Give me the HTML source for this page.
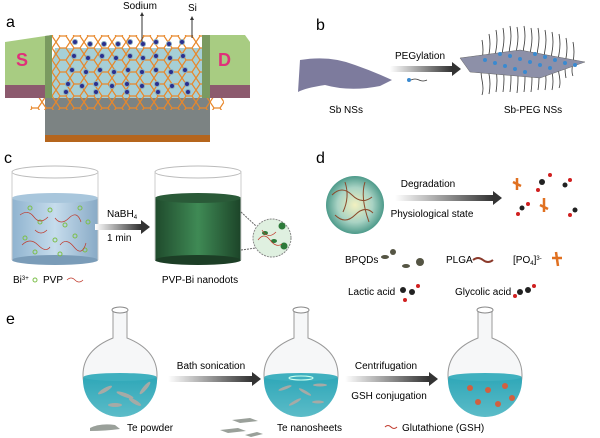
<!DOCTYPE html>
<html><head><meta charset="utf-8"><style>
html,body{margin:0;padding:0;background:#fff;}
svg{display:block;font-family:"Liberation Sans",sans-serif;}
</style></head><body>
<svg width="600" height="438" viewBox="0 0 600 438" xmlns="http://www.w3.org/2000/svg">
<defs>
<linearGradient id="arr" x1="0" x2="1"><stop offset="0" stop-color="#fff"/><stop offset="1" stop-color="#333"/></linearGradient>
<linearGradient id="liq1" x1="0" x2="1"><stop offset="0" stop-color="#8fb3cf"/><stop offset="0.5" stop-color="#c6dcec"/><stop offset="1" stop-color="#88aac6"/></linearGradient>
<linearGradient id="liq2" x1="0" x2="1"><stop offset="0" stop-color="#1f4a2c"/><stop offset="0.5" stop-color="#3f8a55"/><stop offset="1" stop-color="#1c4428"/></linearGradient>
<radialGradient id="sph"><stop offset="0" stop-color="#f2f0c0"/><stop offset="0.6" stop-color="#a9d3c4"/><stop offset="1" stop-color="#4d9a8a"/></radialGradient>
<linearGradient id="wat" x1="0" y1="0" x2="0" y2="1"><stop offset="0" stop-color="#2fa7b8"/><stop offset="1" stop-color="#5cbcc8"/></linearGradient>
<pattern id="hex" width="14" height="12" patternUnits="userSpaceOnUse"><path d="M0 6 L4 0 L10 0 L14 6 L10 12 L4 12 Z" fill="none" stroke="#e8872a" stroke-width="1.2"/></pattern>
</defs>

<!-- Panel a -->
<text x="6" y="27" font-size="16">a</text>
<polygon points="55,48 205,48 210,98 45,98" fill="#a6cfd6"/>
<rect x="45" y="98" width="165" height="37" fill="#7c8383"/>
<rect x="45" y="135" width="165" height="7" fill="#b5651d"/>
<polygon points="50,35 215,35 225,110 30,110" fill="url(#hex)"/>
<g fill="#2a2f8f" stroke="#8ab" stroke-width="1">
<circle cx="75" cy="42" r="2.5"/><circle cx="90" cy="44" r="2.5"/><circle cx="104" cy="44" r="2.5"/><circle cx="118" cy="44" r="2.5"/><circle cx="130" cy="42" r="2.5"/><circle cx="143" cy="44" r="2.5"/><circle cx="156" cy="42" r="2.5"/><circle cx="169" cy="44" r="2.5"/><circle cx="182" cy="42" r="2.5"/>
<circle cx="74" cy="56" r="2.5"/><circle cx="88" cy="58" r="2.5"/><circle cx="102" cy="56" r="2.5"/><circle cx="116" cy="58" r="2.5"/><circle cx="130" cy="56" r="2.5"/><circle cx="143" cy="58" r="2.5"/><circle cx="156" cy="56" r="2.5"/><circle cx="170" cy="58" r="2.5"/><circle cx="183" cy="56" r="2.5"/>
<circle cx="72" cy="70" r="2.5"/><circle cx="86" cy="72" r="2.5"/><circle cx="100" cy="70" r="2.5"/><circle cx="114" cy="72" r="2.5"/><circle cx="128" cy="70" r="2.5"/><circle cx="142" cy="72" r="2.5"/><circle cx="156" cy="70" r="2.5"/><circle cx="171" cy="72" r="2.5"/><circle cx="185" cy="70" r="2.5"/>
<circle cx="68" cy="84" r="2.5"/><circle cx="82" cy="86" r="2.5"/><circle cx="96" cy="84" r="2.5"/><circle cx="112" cy="86" r="2.5"/><circle cx="127" cy="84" r="2.5"/><circle cx="142" cy="86" r="2.5"/><circle cx="157" cy="84" r="2.5"/><circle cx="172" cy="86" r="2.5"/><circle cx="187" cy="84" r="2.5"/>
<circle cx="66" cy="92" r="2.5"/><circle cx="96" cy="92" r="2.5"/><circle cx="127" cy="92" r="2.5"/><circle cx="158" cy="92" r="2.5"/><circle cx="188" cy="92" r="2.5"/>
</g>
<polygon points="5,42 45,36 52,35 52,85 5,85" fill="#a8cc82"/>
<polygon points="5,85 52,85 52,98 5,98" fill="#8c5a6e"/>
<polygon points="45,36 52,35 52,98 45,98" fill="#7a9a60"/>
<text x="16" y="66" font-size="18" font-weight="bold" fill="#e0307a">S</text>
<polygon points="202,35 245,35 250,42 250,85 210,85" fill="#a8cc82"/>
<polygon points="210,85 250,85 250,98 210,98" fill="#8c5a6e"/>
<polygon points="202,35 210,35 210,98 202,98" fill="#7a9a60"/>
<text x="218" y="66" font-size="18" font-weight="bold" fill="#e0307a">D</text>
<text x="123" y="9" font-size="10">Sodium</text>
<text x="188" y="11" font-size="10">Si</text>
<line x1="142" y1="14" x2="142" y2="42" stroke="#333" stroke-width="1"/><polygon points="140,16 142,12 144,16" fill="#333"/>
<line x1="192" y1="18" x2="192" y2="38" stroke="#333" stroke-width="1"/><polygon points="190,20 192,16 194,20" fill="#333"/>

<!-- Panel b -->
<text x="316" y="30" font-size="16">b</text>
<path d="M300,60 Q330,55 355,65 Q375,72 392,80 L380,86 Q350,92 325,85 Q305,88 298,92 Z" fill="#7d7b9d"/>
<text x="346" y="113" font-size="10" text-anchor="middle">Sb NSs</text>
<text x="420" y="59" font-size="10" text-anchor="middle">PEGylation</text>
<rect x="390" y="66" width="62" height="6" fill="url(#arr)"/><polygon points="452,62 461,69 452,76" fill="#333"/>
<circle cx="409" cy="80" r="2" fill="#3a8ad0"/><path d="M411,80 q4,-2 8,0 t8,0" stroke="#333" fill="none" stroke-width="0.8"/>
<g stroke="#333" stroke-width="0.8" fill="none">
<path d="M482,40 q2,10 0,20 q-2,10 0,20 q2,10 0,15"/><path d="M489,34 q2,10 0,20 q-2,10 0,20 q2,10 0,20"/><path d="M496,30 q2,10 0,20 q-2,10 0,20 q2,10 0,22"/><path d="M503,28 q2,10 0,20 q-2,10 0,20 q2,10 0,24"/><path d="M510,26 q2,10 0,20 q-2,10 0,20 q2,10 0,26"/><path d="M517,27 q2,10 0,20 q-2,10 0,20 q2,10 0,26"/><path d="M524,26 q2,10 0,20 q-2,10 0,20 q2,10 0,26"/><path d="M531,28 q2,10 0,20 q-2,10 0,20 q2,10 0,24"/><path d="M538,28 q2,10 0,20 q-2,10 0,20 q2,10 0,22"/><path d="M545,30 q2,10 0,20 q-2,10 0,20 q2,10 0,20"/><path d="M552,32 q2,10 0,20 q-2,10 0,20 q2,10 0,18"/><path d="M559,34 q2,10 0,20 q-2,10 0,20 q2,10 0,14"/><path d="M566,38 q2,10 0,20 q-2,10 0,20"/><path d="M573,42 q2,10 0,20 q-2,10 0,14"/>
</g>
<polygon points="460,58 520,50 585,62 540,78 470,72" fill="#8d90a8" stroke="#666" stroke-width="0.5"/>
<g fill="#3a8ad0"><circle cx="485" cy="60" r="2"/><circle cx="495" cy="63" r="2"/><circle cx="505" cy="66" r="2"/><circle cx="515" cy="69" r="2"/><circle cx="525" cy="72" r="2"/><circle cx="510" cy="56" r="2"/><circle cx="520" cy="59" r="2"/><circle cx="530" cy="62" r="2"/><circle cx="540" cy="65" r="2"/><circle cx="550" cy="68" r="2"/><circle cx="535" cy="54" r="2"/><circle cx="545" cy="57" r="2"/><circle cx="555" cy="60" r="2"/><circle cx="565" cy="63" r="2"/><circle cx="575" cy="65" r="2"/><circle cx="500" cy="54" r="2"/></g>
<text x="533" y="113" font-size="10" text-anchor="middle">Sb-PEG NSs</text>

<!-- Panel c -->
<text x="4" y="163" font-size="16">c</text>
<ellipse cx="55" cy="172" rx="43" ry="6" fill="none" stroke="#bbb"/>
<rect x="12" y="198" width="86" height="62" fill="url(#liq1)"/>
<ellipse cx="55" cy="198" rx="43" ry="5" fill="#a8c6dc"/>
<ellipse cx="55" cy="260" rx="43" ry="5" fill="#7a9cb8"/>
<line x1="12" y1="172" x2="12" y2="260" stroke="#ccc"/><line x1="98" y1="172" x2="98" y2="260" stroke="#ccc"/>
<g fill="none" stroke="#7cbf4a" stroke-width="1"><circle cx="30" cy="208" r="2"/><circle cx="50" cy="210" r="2"/><circle cx="80" cy="208" r="2"/><circle cx="40" cy="222" r="2"/><circle cx="65" cy="225" r="2"/><circle cx="88" cy="222" r="2"/><circle cx="25" cy="238" r="2"/><circle cx="55" cy="240" r="2"/><circle cx="75" cy="236" r="2"/><circle cx="35" cy="252" r="2"/><circle cx="60" cy="254" r="2"/><circle cx="85" cy="250" r="2"/></g>
<g fill="none" stroke="#c0392b" stroke-width="0.7"><path d="M20,215 q8,-6 14,2 t14,0"/><path d="M55,218 q6,8 14,0 t12,4"/><path d="M22,245 q8,-8 16,0 t12,2"/><path d="M60,245 q6,-8 14,2 t12,-4"/><path d="M35,230 q6,6 12,0"/></g>
<text x="107" y="217" font-size="10">NaBH<tspan font-size="6" dy="2">4</tspan></text>
<text x="107" y="241" font-size="10">1 min</text>
<rect x="95" y="224" width="46" height="6" fill="url(#arr)"/><polygon points="141,220 150,227 141,234" fill="#333"/>
<ellipse cx="198" cy="172" rx="43" ry="6" fill="none" stroke="#bbb"/>
<rect x="155" y="198" width="86" height="62" fill="url(#liq2)"/>
<ellipse cx="198" cy="198" rx="43" ry="5" fill="#2a5a38"/>
<ellipse cx="198" cy="260" rx="43" ry="5" fill="#1c3e26"/>
<line x1="155" y1="172" x2="155" y2="260" stroke="#ccc"/><line x1="241" y1="172" x2="241" y2="260" stroke="#ccc"/>
<circle cx="272" cy="238" r="19" fill="#dff0e0" stroke="#888" stroke-dasharray="2,1"/>
<line x1="241" y1="212" x2="256" y2="226" stroke="#666" stroke-dasharray="2,1"/><line x1="241" y1="250" x2="256" y2="248" stroke="#666" stroke-dasharray="2,1"/>
<g fill="#2d7a3a"><circle cx="282" cy="226" r="3.5"/><circle cx="284" cy="246" r="3.5"/><ellipse cx="265" cy="233" rx="3" ry="2"/><ellipse cx="274" cy="241" rx="3" ry="2"/></g>
<path d="M258,240 q6,-8 12,0 t12,4 M262,230 q6,10 14,2" fill="none" stroke="#c0392b" stroke-width="0.7"/>
<text x="13" y="283" font-size="10">Bi<tspan font-size="6" dy="-3">3+</tspan></text>
<circle cx="35" cy="280" r="2" fill="none" stroke="#7cbf4a"/>
<text x="43" y="283" font-size="10">PVP</text>
<path d="M67,280 q4,-4 8,0 t8,0" fill="none" stroke="#c0392b" stroke-width="0.8"/>
<text x="200" y="283" font-size="10" text-anchor="middle">PVP-Bi nanodots</text>

<!-- Panel d -->
<text x="316" y="163" font-size="16">d</text>
<circle cx="355" cy="205" r="29" fill="url(#sph)"/>
<path d="M332,195 q10,-10 20,0 t20,2 M335,215 q10,10 20,0 t18,-2 M345,182 q5,15 -2,30 M365,182 q-5,15 4,40" fill="none" stroke="#8b4a2b" stroke-width="1"/>
<text x="428" y="187" font-size="10" text-anchor="middle">Degradation</text>
<rect x="395" y="195" width="98" height="6" fill="url(#arr)"/><polygon points="493,191 502,198 493,205" fill="#333"/>
<text x="432" y="217" font-size="10" text-anchor="middle">Physiological state</text>
<g stroke="#e07020" stroke-width="2.5" fill="none"><path d="M513,182 l8,4 M517,178 l0,12"/><path d="M540,205 l8,4 M544,198 l0,14"/></g>
<g fill="#222"><circle cx="542" cy="182" r="3"/><circle cx="565" cy="185" r="2.5"/><circle cx="522" cy="208" r="2.5"/><circle cx="575" cy="210" r="2.5"/></g>
<g fill="#d02020"><circle cx="550" cy="175" r="2"/><circle cx="538" cy="190" r="2"/><circle cx="570" cy="180" r="2"/><circle cx="518" cy="214" r="2"/><circle cx="528" cy="204" r="2"/><circle cx="570" cy="215" r="2"/></g>
<text x="345" y="263" font-size="10">BPQDs</text>
<g fill="#554"><ellipse cx="385" cy="257" rx="4" ry="2"/><circle cx="393" cy="252" r="3"/><circle cx="420" cy="262" r="4"/><ellipse cx="406" cy="266" rx="4" ry="2"/></g>
<text x="446" y="263" font-size="10">PLGA</text>
<path d="M473,260 q5,-4 10,0 t10,0" fill="none" stroke="#8b3a2b" stroke-width="2"/>
<text x="513" y="263" font-size="10">[PO<tspan font-size="6" dy="2">4</tspan><tspan dy="-2">]</tspan><tspan font-size="6" dy="-3">3-</tspan></text>
<path d="M552,258 l10,0 M556,252 l2,14" stroke="#e07020" stroke-width="2.5"/>
<text x="348" y="295" font-size="10">Lactic acid</text>
<g fill="#222"><circle cx="403" cy="290" r="3"/><circle cx="412" cy="292" r="3"/></g><g fill="#d02020"><circle cx="418" cy="286" r="2"/><circle cx="405" cy="300" r="2"/></g>
<text x="455" y="295" font-size="10">Glycolic acid</text>
<g fill="#222"><circle cx="520" cy="292" r="3"/><circle cx="528" cy="290" r="3"/></g><g fill="#d02020"><circle cx="515" cy="296" r="2"/><circle cx="534" cy="286" r="2"/></g>

<!-- Panel e -->
<text x="6" y="324" font-size="16">e</text>
<g id="flask">
<path d="M113,310 v28 Q83,350 83,375 A37,37 0 0 0 157,375 Q157,350 127,338 v-28" fill="#f6f7f8" stroke="#999"/>
<ellipse cx="120" cy="310" rx="8" ry="3" fill="#fff" stroke="#888"/>
<path d="M83.5,377 L156.5,377 Q157,380 157,380 A37,37 0 0 1 83,380 Z" fill="url(#wat)"/>
<ellipse cx="120" cy="377" rx="36.5" ry="4" fill="#3fb0bf"/>
</g>
<use href="#flask" x="181"/>
<use href="#flask" x="365"/>
<g fill="#a6aaa6"><ellipse cx="105" cy="390" rx="8" ry="2" transform="rotate(-30 105 390)"/><ellipse cx="125" cy="395" rx="9" ry="2" transform="rotate(20 125 395)"/><ellipse cx="145" cy="388" rx="8" ry="2" transform="rotate(-50 145 388)"/><ellipse cx="115" cy="405" rx="7" ry="2"/><ellipse cx="135" cy="402" rx="7" ry="2" transform="rotate(30 135 402)"/></g>
<g fill="#a6aaa6"><ellipse cx="285" cy="388" rx="7" ry="1.5" transform="rotate(-20 285 388)"/><ellipse cx="305" cy="392" rx="7" ry="1.5" transform="rotate(30 305 392)"/><ellipse cx="320" cy="385" rx="7" ry="1.5"/><ellipse cx="295" cy="402" rx="7" ry="1.5" transform="rotate(-30 295 402)"/><ellipse cx="318" cy="402" rx="6" ry="1.5"/></g>
<ellipse cx="301" cy="378" rx="12" ry="2" fill="none" stroke="#cfe" stroke-width="1"/>
<g fill="#d06040"><circle cx="470" cy="388" r="3"/><circle cx="488" cy="390" r="3"/><circle cx="505" cy="386" r="3"/><circle cx="478" cy="402" r="3"/><circle cx="498" cy="404" r="3"/><circle cx="512" cy="398" r="3"/></g>
<text x="211" y="369" font-size="10" text-anchor="middle">Bath sonication</text>
<rect x="168" y="376" width="84" height="6" fill="url(#arr)"/><polygon points="252,372 261,379 252,386" fill="#333"/>
<text x="386" y="369" font-size="10" text-anchor="middle">Centrifugation</text>
<rect x="345" y="376" width="84" height="6" fill="url(#arr)"/><polygon points="429,372 438,379 429,386" fill="#333"/>
<text x="389" y="399" font-size="10" text-anchor="middle">GSH conjugation</text>
<path d="M90,428 q10,-5 25,-3 l5,4 q-15,2 -30,2 z" fill="#9aa09a"/>
<text x="127" y="431" font-size="10">Te powder</text>
<path d="M232,420 l18,-2 l8,3 l-18,2z M220,430 l18,-2 l8,3 l-18,2z M245,435 l12,-3 l6,2 l-12,3z" fill="#9aa09a"/>
<text x="277" y="431" font-size="10">Te nanosheets</text>
<path d="M385,427 q3,-3 6,0 t6,0" fill="none" stroke="#c0392b"/>
<text x="402" y="431" font-size="10">Glutathione (GSH)</text>
</svg>
</body></html>
